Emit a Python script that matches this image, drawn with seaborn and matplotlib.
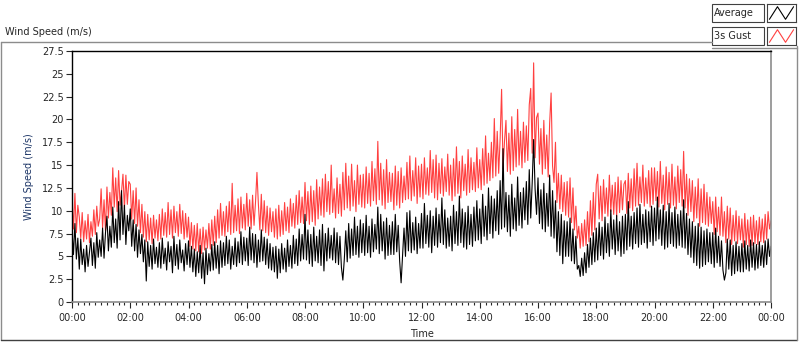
import numpy as np
import pandas as pd
import seaborn as sns
import matplotlib.pyplot as plt
from matplotlib.patches import Rectangle
from matplotlib.lines import Line2D
from matplotlib.ticker import MultipleLocator, FuncFormatter

# Wind speed readings, one every 3 minutes (hours 0..24)
# one row per hour
average = [
    7.9, 5.2, 8.6, 4.7, 7.0, 3.6, 6.9, 4.1, 5.8, 3.3, 6.2, 3.9, 5.4, 7.0, 4.0, 6.5, 3.7, 7.6, 4.9, 6.8,
    5.0, 8.1, 4.8, 7.6, 9.4, 5.6, 8.3, 6.0, 10.4, 6.5, 9.1, 5.9, 11.0, 6.8, 12.2, 7.4, 10.6, 6.3, 9.5, 7.8,
    10.2, 6.1, 9.0, 5.6, 8.5, 4.9, 7.9, 5.3, 7.4, 4.4, 6.8, 2.3, 6.6, 3.9, 6.2, 3.6, 6.9, 4.2, 6.0, 3.8,
    6.5, 3.7, 7.0, 4.2, 5.9, 3.5, 6.6, 4.4, 6.1, 3.2, 7.2, 4.0, 6.3, 3.6, 6.8, 4.3, 5.7, 3.4, 6.4, 4.1,
    6.7, 3.8, 6.1, 3.3, 5.8, 2.8, 5.5, 3.2, 6.2, 2.6, 5.4, 2.0, 5.9, 3.0, 5.3, 3.4, 6.3, 3.5, 6.6, 3.7,
    6.2, 3.1, 6.7, 3.8, 6.5, 4.0, 7.2, 4.2, 6.8, 3.6, 6.1, 4.1, 7.0, 3.9, 6.6, 4.3, 7.7, 4.1, 7.1, 4.5,
    7.0, 4.0, 8.2, 4.6, 7.5, 4.3, 7.4, 3.8, 6.8, 4.4, 7.9, 4.5, 7.1, 4.1, 6.9, 3.7, 6.4, 3.5, 6.0, 3.3,
    6.1, 2.6, 5.8, 3.2, 6.4, 3.6, 5.9, 3.3, 6.8, 3.9, 6.2, 3.7, 7.3, 4.2, 6.9, 4.0, 8.0, 4.5, 7.4, 4.7,
    9.6, 4.6, 7.9, 4.2, 7.4, 3.9, 8.2, 4.5, 7.2, 4.3, 7.9, 4.0, 8.5, 3.4, 7.5, 4.5, 8.1, 4.8, 7.3, 4.6,
    8.1, 4.3, 7.6, 4.1, 7.2, 3.8, 2.4, 4.7, 7.8, 4.4, 8.6, 4.8, 8.0, 5.1, 9.3, 5.2, 8.3, 4.9, 9.0, 5.4,
    8.6, 5.1, 9.5, 5.4, 8.3, 4.9, 9.1, 5.5, 8.5, 5.8, 10.4, 5.3, 9.6, 5.6, 8.8, 4.7, 9.2, 5.1, 8.4, 5.2,
    8.8, 5.2, 9.6, 5.5, 8.4, 4.5, 2.1, 5.1, 8.1, 5.0, 9.8, 5.6, 10.0, 5.4, 8.7, 5.7, 9.3, 5.3, 8.6, 5.9,
    9.7, 5.9, 10.8, 6.4, 9.5, 6.0, 10.0, 5.4, 9.4, 6.2, 10.3, 6.0, 9.6, 6.5, 11.4, 6.3, 10.1, 5.9, 9.2, 6.1,
    9.4, 5.6, 10.6, 6.4, 9.9, 6.2, 11.6, 6.5, 10.2, 6.0, 9.8, 5.8, 10.5, 6.3, 9.6, 6.1, 10.4, 6.7, 11.1, 6.8,
    10.2, 6.4, 11.8, 7.2, 10.5, 6.8, 12.5, 7.5, 11.6, 7.0, 11.3, 7.8, 12.2, 7.4, 13.3, 8.0, 16.8, 8.2, 12.0, 7.7,
    11.7, 7.2, 12.9, 8.0, 11.4, 7.8, 13.7, 8.4, 12.0, 8.1, 12.5, 9.0, 13.2, 8.5, 14.5, 9.2, 13.0, 17.8, 12.4, 9.6,
    13.6, 8.6, 12.3, 8.0, 13.0, 7.7, 11.9, 8.3, 13.9, 7.2, 12.2, 7.0, 11.1, 5.5, 9.9, 5.1, 9.6, 4.2, 8.9, 5.0,
    8.8, 5.0, 9.2, 4.5, 8.0, 4.2, 7.2, 3.6, 4.0, 2.8, 4.8, 2.9, 5.4, 3.2, 6.3, 3.8, 7.0, 4.1, 7.6, 4.4,
    8.1, 4.6, 8.7, 5.1, 8.2, 4.7, 9.3, 5.4, 8.6, 5.0, 10.1, 5.8, 9.0, 5.2, 9.5, 5.6, 8.8, 5.0, 9.4, 5.3,
    9.6, 5.7, 11.0, 6.1, 9.4, 5.8, 9.8, 6.4, 10.3, 6.0, 10.7, 6.3, 9.6, 6.5, 10.1, 5.9, 9.9, 6.6, 10.5, 6.2,
    10.3, 6.7, 11.5, 6.9, 10.1, 6.2, 10.6, 5.8, 9.9, 6.0, 10.8, 6.4, 9.8, 6.1, 10.4, 5.9, 9.6, 6.2, 10.0, 6.0,
    11.2, 5.9, 9.7, 5.2, 9.1, 4.9, 8.8, 4.3, 8.3, 4.0, 8.6, 3.7, 8.2, 3.9, 7.8, 4.1, 8.0, 4.4, 7.6, 4.2,
    7.6, 3.8, 8.1, 4.3, 7.2, 3.9, 6.7, 3.5, 2.4, 3.2, 6.9, 3.6, 6.8, 2.9, 6.2, 3.1, 6.6, 3.4, 6.1, 3.3,
    6.4, 3.3, 6.7, 3.6, 6.2, 3.4, 6.8, 3.8, 6.5, 3.5, 6.3, 3.7, 6.6, 4.0, 6.2, 3.8, 6.7, 4.1, 6.9, 5.0,
    6.1,
]
gust = [
    11.4, 8.0, 11.9, 7.6, 10.6, 9.3, 7.0, 9.8, 6.6, 8.9, 6.9, 9.6, 6.5, 8.8, 7.2, 10.1, 7.4, 10.5, 8.3, 9.1,
    12.4, 8.1, 11.2, 7.8, 12.6, 9.2, 12.0, 9.5, 14.7, 10.4, 13.6, 9.9, 14.4, 10.6, 12.1, 14.0, 10.2, 13.9, 10.7, 13.2,
    12.9, 9.1, 12.2, 8.6, 12.5, 8.3, 11.2, 7.6, 10.7, 7.1, 9.9, 6.6, 9.6, 6.8, 9.2, 6.4, 9.5, 7.0, 9.0, 6.7,
    9.6, 6.9, 10.2, 7.3, 9.8, 7.1, 10.9, 7.4, 10.1, 7.0, 10.5, 7.6, 9.9, 7.2, 10.7, 7.5, 10.0, 6.9, 9.7, 7.1,
    9.3, 6.1, 8.7, 5.8, 8.4, 5.6, 8.6, 5.5, 8.0, 5.3, 8.2, 5.7, 7.9, 5.9, 8.6, 5.8, 9.0, 6.2, 9.4, 6.5,
    10.1, 7.0, 10.8, 7.3, 9.9, 7.2, 10.5, 7.7, 11.0, 7.4, 13.0, 7.6, 10.6, 7.8, 11.3, 7.5, 11.5, 8.1, 10.7, 7.9,
    11.9, 8.3, 11.2, 8.0, 11.7, 8.4, 10.9, 14.2, 10.7, 7.9, 11.8, 7.8, 11.1, 7.6, 10.5, 7.3, 10.3, 7.7, 9.9, 7.1,
    10.2, 6.9, 10.6, 7.2, 10.0, 7.4, 10.9, 7.8, 10.4, 7.6, 11.3, 8.3, 10.8, 8.1, 11.7, 8.5, 12.2, 8.7, 11.5, 8.6,
    13.1, 8.9, 12.1, 8.5, 12.7, 8.8, 12.2, 8.4, 13.4, 9.1, 12.6, 9.5, 13.5, 9.3, 14.0, 9.9, 13.2, 9.6, 15.0, 9.8,
    12.4, 9.2, 13.6, 9.7, 12.9, 9.4, 14.2, 10.1, 15.2, 10.3, 13.8, 10.0, 15.1, 10.5, 13.3, 9.9, 15.0, 10.7, 13.9, 10.4,
    14.0, 10.3, 14.8, 10.8, 14.1, 10.5, 15.4, 11.1, 14.6, 10.7, 17.6, 11.2, 15.2, 10.6, 14.5, 10.2, 15.6, 10.9, 14.2, 11.0,
    14.1, 10.1, 14.9, 10.6, 14.3, 10.3, 14.7, 10.9, 13.8, 11.2, 15.3, 11.3, 16.0, 11.1, 14.4, 11.6, 15.8, 10.8, 14.9, 11.5,
    15.1, 11.3, 15.8, 11.8, 14.7, 11.7, 16.6, 12.0, 15.6, 11.4, 16.1, 11.2, 15.2, 11.9, 15.7, 11.6, 14.8, 12.1, 16.2, 11.7,
    15.0, 11.1, 15.7, 11.6, 17.0, 11.9, 15.4, 11.4, 16.0, 12.2, 15.1, 11.7, 16.7, 12.0, 15.8, 12.3, 15.3, 12.1, 16.9, 12.5,
    15.6, 12.3, 16.8, 12.8, 18.2, 13.0, 16.3, 13.3, 17.5, 13.6, 20.1, 13.8, 18.7, 14.1, 17.9, 23.3, 14.6, 17.6, 19.9, 14.3,
    18.5, 14.0, 20.3, 14.4, 18.9, 14.8, 21.1, 15.0, 18.7, 14.7, 19.7, 15.3, 19.3, 15.5, 21.6, 23.4, 16.3, 26.2, 15.8, 20.2,
    20.7, 15.1, 19.0, 14.0, 19.9, 14.6, 18.3, 13.7, 19.6, 22.9, 14.9, 13.1, 17.5, 10.9, 14.1, 10.2, 13.9, 9.9, 13.1, 9.5,
    13.2, 9.3, 13.6, 8.7, 12.5, 7.9, 10.5, 7.0, 8.3, 5.9, 8.6, 6.1, 9.0, 6.2, 9.9, 6.6, 11.1, 7.3, 12.0, 7.9,
    12.9, 14.0, 9.1, 12.7, 8.9, 13.4, 9.7, 12.5, 9.4, 13.9, 9.9, 12.8, 9.6, 13.1, 9.3, 13.7, 9.8, 13.3, 10.1, 12.9,
    13.3, 9.7, 14.1, 10.3, 13.5, 10.0, 14.6, 10.5, 15.2, 10.6, 13.7, 10.9, 15.0, 10.5, 13.6, 10.8, 14.4, 10.4, 14.7, 10.7,
    14.7, 11.1, 14.3, 10.4, 15.4, 10.8, 13.9, 10.1, 14.8, 10.7, 14.2, 10.3, 15.1, 10.6, 13.7, 10.2, 14.9, 10.9, 14.5, 10.5,
    16.5, 10.3, 14.0, 9.5, 13.5, 9.9, 13.3, 8.8, 12.6, 9.2, 13.5, 8.3, 12.4, 8.7, 12.9, 8.5, 12.0, 8.3, 11.5, 8.6,
    11.0, 7.4, 11.5, 7.7, 10.4, 7.3, 11.5, 7.2, 9.9, 6.5, 10.5, 6.9, 10.3, 6.3, 9.5, 6.7, 10.0, 6.4, 9.4, 6.8,
    9.1, 6.0, 9.7, 6.3, 9.0, 6.1, 9.3, 6.2, 9.5, 6.4, 8.9, 6.3, 9.3, 6.6, 9.1, 6.5, 9.6, 6.9, 9.9, 8.0,
    8.9,
]
hours = np.arange(len(average)) * 0.05

df = pd.DataFrame({"hour": hours, "Average": average, "3s Gust": gust})

sns.set_style("ticks")
plt.rcParams["font.family"] = ["DejaVu Sans"]

fig = plt.figure(figsize=(8, 3.42), dpi=100)
ax = fig.add_axes([72 / 800, 40 / 342, 699 / 800, 251 / 342])

sns.lineplot(data=df, x="hour", y="3s Gust", color="#ff4040", lw=0.8, ax=ax)
sns.lineplot(data=df, x="hour", y="Average", color="black", lw=0.8, ax=ax)

ax.set_xlim(0, 24)
ax.set_ylim(0, 27.5)
ax.xaxis.set_major_locator(MultipleLocator(2))
ax.xaxis.set_minor_locator(MultipleLocator(0.2))
ax.yaxis.set_major_locator(MultipleLocator(2.5))
ax.xaxis.set_major_formatter(FuncFormatter(lambda v, p: "%02d:00" % (int(round(v)) % 24)))
ax.yaxis.set_major_formatter(FuncFormatter(lambda v, p: "{:g}".format(v)))
ax.tick_params(axis="both", which="major", labelsize=7, length=4, width=0.8, pad=2)
ax.tick_params(axis="x", which="major", pad=4)
ax.tick_params(axis="x", which="minor", length=2.5, width=0.8)
ax.set_xlabel("Time", fontsize=7, labelpad=4)
ax.set_ylabel("Wind Speed (m/s)", fontsize=7, color="#1c3566", labelpad=6)

for side in ["top", "left"]:
    ax.spines[side].set_color("black")
    ax.spines[side].set_linewidth(1)
for side in ["bottom", "right"]:
    ax.spines[side].set_color("#8c8c8c")
    ax.spines[side].set_linewidth(1.2)

# outer panel frame
def fx(px):
    return px / 800

def fy(py):
    return 1 - py / 342

frame_col = "#8c8c8c"
fig.add_artist(Line2D([fx(1), fx(712)], [fy(42), fy(42)], color=frame_col, lw=1))
fig.add_artist(Line2D([fx(1), fx(1)], [fy(42), fy(340)], color=frame_col, lw=1))
fig.add_artist(Line2D([fx(1), fx(797)], [fy(340), fy(340)], color="#404040", lw=1))
fig.add_artist(Line2D([fx(797), fx(797)], [fy(46), fy(340)], color=frame_col, lw=1))
fig.add_artist(Line2D([fx(712), fx(797)], [fy(48), fy(48)], color=frame_col, lw=1))

fig.text(fx(5), fy(32), "Wind Speed (m/s)", fontsize=7, ha="left", va="center")

# legend boxes
for i, (name, col) in enumerate([("Average", "black"), ("3s Gust", "#ff4040")]):
    top = 4 + i * 23
    fig.add_artist(Rectangle((fx(712), fy(top + 18)), fx(52), 18 / 342, fill=False,
                             ec="#404040", lw=0.8))
    fig.text(fx(714), fy(top + 9), name, fontsize=7, ha="left", va="center")
    icon = fig.add_axes([fx(767), fy(top + 18), fx(29), 18 / 342])
    icon.plot([0, 1, 2, 3], [0.15, 0.85, 0.15, 0.85], color=col, lw=0.8)
    icon.set_xlim(-0.3, 3.3)
    icon.set_ylim(0, 1)
    icon.set_xticks([])
    icon.set_yticks([])
    for s in icon.spines.values():
        s.set_color("#404040")
        s.set_linewidth(0.8)

fig.savefig("out.png", dpi=100)
